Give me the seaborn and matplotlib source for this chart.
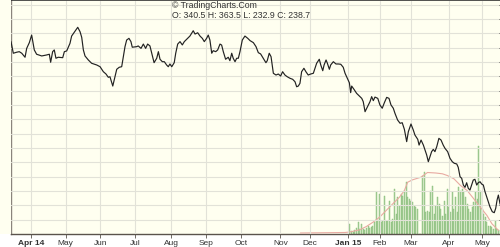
import matplotlib
matplotlib.use("Agg")
import matplotlib.pyplot as plt
import seaborn as sns
import pandas as pd
import numpy as np

# ---- data ----
price_days = [-12.1, -10.7, -8.7, -7.1, -5.6, -3.6, -2.6, -1.0, 0.4, 2.0, 3.4, 6.5, 9.5, 11.1, 11.9,
              13.1, 14.1, 15.1, 16.5, 19.2, 20.2, 21.6, 23.6, 24.6, 26.0, 28.3, 29.7, 30.7, 31.7, 32.7,
              34.7, 36.7, 39.8, 41.8, 43.8, 45.4, 46.8, 47.8, 49.5, 50.8, 51.9, 53.4, 54.9, 56.9, 57.9,
              59.3, 60.5, 61.3, 64.0, 64.9, 66.6, 68.0, 69.4, 70.6, 72.0, 73.1, 74.5, 76.1, 77.1, 78.1,
              79.5, 80.7, 82.1, 83.1, 84.1, 85.2, 86.7, 87.6, 88.8, 90.2, 91.6, 92.8, 94.2, 96.2, 98.2,
              99.3, 100.9, 102.3, 103.7, 104.9, 106.3, 107.3, 108.3, 109.4, 110.3, 111.8, 113.0, 114.4, 115.4, 116.4,
              117.8, 119.4, 120.4, 121.5, 122.4, 123.5, 124.5, 125.5, 126.5, 127.9, 129.5, 131.2, 132.6, 134.6, 136.2,
              137.6, 139.0, 140.6, 142.2, 143.0, 144.2, 145.3, 146.7, 148.3, 149.7, 151.1, 152.3, 153.7, 155.1, 156.8,
              158.4, 159.8, 160.8, 161.8, 162.8, 163.8, 165.2, 166.4, 167.8, 169.3, 170.9, 171.9, 172.9, 174.5, 175.4,
              176.6, 177.4, 178.6, 179.4, 180.6, 181.4, 183.0, 184.6, 186.0, 187.5, 189.0, 190.1, 191.5, 192.7, 193.5,
              194.1, 195.5, 197.1, 198.7, 200.2, 201.1, 202.2, 203.2, 204.2, 205.2, 206.2, 207.2, 208.2, 209.9, 211.2,
              212.6, 213.9, 215.3, 216.7, 217.9, 219.3, 220.3, 221.9, 223.4, 224.7, 226.0, 227.4, 228.4, 230.0, 231.4,
              232.4, 234.1, 234.9, 236.1, 237.5, 238.5, 239.5, 240.5, 241.5, 242.5, 243.5, 244.5, 245.6, 246.9, 248.2,
              249.5, 250.6, 252.2, 253.6, 255.0, 256.2, 257.7, 258.6, 259.7, 260.7, 261.7, 262.7, 263.7, 264.7, 265.7,
              266.7, 267.7, 268.7, 269.8, 270.7, 271.8, 272.8, 273.8, 274.8, 275.8, 276.8, 277.8, 279.2, 280.4, 281.3,
              282.1, 282.9, 283.9, 284.8]
price_close = [354.2, 346.1, 346.8, 347.2, 346.1, 343.3, 349.5, 353.5, 358.8, 348.4, 345.4, 344.2, 344.9, 345.4, 339.8,
               347.2, 348.4, 342.6, 343.3, 343.0, 347.2, 347.7, 353.0, 358.1, 360.4, 364.2, 361.1, 357.2, 348.4, 344.2,
               341.4, 339.1, 337.9, 336.7, 333.2, 331.6, 329.3, 329.7, 323.2, 329.7, 334.9, 336.3, 336.7, 350.7, 355.3,
               356.5, 354.2, 350.3, 350.7, 351.2, 349.5, 352.5, 349.5, 352.5, 351.2, 346.1, 339.5, 342.6, 347.2, 341.9,
               340.2, 340.2, 337.9, 336.7, 338.6, 336.7, 339.5, 346.1, 352.5, 354.2, 351.9, 354.2, 355.8, 358.1, 361.8,
               359.5, 360.4, 358.1, 356.5, 354.2, 356.5, 358.8, 355.3, 346.1, 347.9, 347.2, 348.4, 352.5, 351.8, 347.2,
               341.9, 343.3, 340.9, 346.1, 342.6, 340.2, 342.6, 342.6, 347.2, 355.3, 358.1, 356.5, 354.9, 353.5, 350.7,
               346.5, 345.6, 342.6, 339.5, 340.9, 346.1, 343.7, 332.1, 330.9, 331.6, 330.2, 333.2, 330.9, 329.7, 328.6,
               327.9, 326.2, 322.7, 323.2, 325.1, 333.2, 335.6, 333.2, 330.9, 331.6, 332.1, 335.6, 339.1, 341.9, 337.9,
               333.9, 337.9, 341.4, 339.1, 334.9, 337.9, 340.2, 338.6, 338.6, 338.4, 336.3, 332.1, 328.6, 325.5, 318.6,
               323.2, 320.9, 318.1, 316.3, 314.6, 312.3, 305.3, 307.7, 310.0, 312.3, 315.8, 313.0, 315.5, 314.6, 310.0,
               307.7, 311.6, 315.3, 314.6, 310.0, 307.7, 304.2, 299.5, 297.2, 297.6, 293.0, 284.4, 291.3, 296.7, 292.5,
               289.0, 286.0, 282.0, 285.5, 282.0, 278.6, 275.1, 270.4, 273.9, 277.4, 279.0, 277.4, 280.9, 286.7, 285.5,
               282.0, 279.7, 277.4, 272.8, 270.4, 269.3, 268.8, 266.5, 259.9, 258.8, 254.1, 252.5, 255.7, 251.8, 250.6,
               254.1, 257.6, 258.1, 254.1, 255.7, 256.4, 254.8, 254.1, 249.5, 245.9, 242.5, 238.9, 235.5, 234.8, 237.9,
               243.6, 247.1, 241.0, 238.7]

vol_days = list(range(193, 285))
volume = [485, 150, 100, 200, 300, 565, 235, 485, 250, 200, 265, 365, 265, 315, 400, 600,
          2065, 650, 1985, 565, 650, 1900, 650, 650, 1650, 565, 735, 2235, 985, 1815, 1400, 1985,
          1900, 2150, 2565, 1815, 1735, 1650, 1565, 1400, 1315, 1235, 0, 0, 2900, 3065, 1065, 1150,
          1065, 2150, 2400, 985, 1400, 1815, 1485, 1235, 900, 1650, 985, 2235, 1315, 1065, 2065, 1235,
          1815, 1065, 2315, 2150, 2235, 2065, 1815, 1485, 1235, 1065, 1315, 1565, 2065, 1750, 4400, 2150,
          1235, 985, 815, 565, 400, 400, 315, 235, 650, 235, 200, 200]

oi_days = [163, 190, 193, 199, 203, 207, 211, 215, 219, 223, 226, 228, 231, 236, 240, 245, 249, 252,
           256, 260, 264, 268, 272, 276, 279, 283]
open_interest = [200, 400, 600, 1480, 2800, 4520, 6520, 9200, 11880, 14520, 17200, 20520, 21480, 22520,
                 24400, 24200, 23880, 23200, 21880, 19200, 17200, 13880, 10520, 7200, 3880, 1200]

month_days = [0, 21, 42, 63, 85, 106, 127, 151, 169, 192, 211, 230, 253, 273]
month_labels = ["Apr 14", "May", "Jun", "Jul", "Aug", "Sep", "Oct", "Nov", "Dec", "Jan 15", "Feb", "Mar", "Apr", "May"]
price_ticks = list(range(230, 390, 10))

title_line1 = "\u00a9 TradingCharts.Com"
title_line2 = "O: 340.5 H: 363.5 L: 232.9 C: 238.7"

# ---- style ----
sns.set_theme(style="white")
plt.rcParams["font.family"] = ["Liberation Sans", "DejaVu Sans"]

W, H = 500, 247
fig = plt.figure(figsize=(W / 100, H / 100), dpi=100, facecolor="white")
px_left, px_right, px_top, px_bot = 11, 503, 0.5, 233.5
rect = [px_left / W, 1 - px_bot / H, (px_right - px_left) / W, (px_bot - px_top) / H]

bg = "#fffff0"
grid_c = "#e2e2d8"
spine_c = "#5a534c"

# light strip left of the plot (same paper colour)
fig.patches.append(plt.Rectangle((0, 1 - px_bot / H), px_left / W, px_bot / H,
                                 transform=fig.transFigure, facecolor=bg, edgecolor="none", zorder=0))

ax_v = fig.add_axes(rect)
ax_v.set_facecolor(bg)
ax_oi = ax_v.twinx()
ax_p = ax_v.twinx()

# volume bars
vol_df = pd.DataFrame({"day": vol_days, "volume": volume})
sns.barplot(data=vol_df, x="day", y="volume", native_scale=True, width=0.6,
            color="#a6d597", edgecolor="#86c076", linewidth=0.3, errorbar=None, ax=ax_v)
ax_v.set_ylim(0, 233 * 50)

# open interest line
oi_df = pd.DataFrame({"day": oi_days, "oi": open_interest})
sns.lineplot(data=oi_df, x="day", y="oi", color="#e8aaa2", linewidth=0.8, ax=ax_oi)
ax_oi.set_ylim(0, 233 * 400)

# price line
p_df = pd.DataFrame({"day": price_days, "close": price_close})
sns.lineplot(data=p_df, x="day", y="close", color="#222222", linewidth=0.85, ax=ax_p)
ax_p.set_ylim(383.26 - 0.698 * px_bot, 383.26 - 0.698 * px_top)

xlim = (-12.1, 285.7)
for a in (ax_v, ax_oi, ax_p):
    a.set_xlim(*xlim)
    a.set_xlabel("")
    a.set_ylabel("")

# grid lines (drawn on the price axes, under the price line)
for d in month_days:
    ax_p.axvline(d, color=grid_c, linewidth=0.8, zorder=0)
for t in price_ticks:
    ax_p.axhline(t, color=grid_c, linewidth=0.8, zorder=0)
ax_p.set_zorder(3)
ax_oi.set_zorder(2)
ax_p.patch.set_visible(False)
ax_oi.patch.set_visible(False)

# x ticks (shared x axis; shown only on the base axes)
ax_v.set_xticks(month_days)
ax_v.set_xticklabels(month_labels)
ax_v.tick_params(axis="x", direction="out", length=3, width=0.6, color=spine_c,
                 labelsize=6, labelcolor="#333333", pad=2, bottom=True, labelbottom=True)
for lab in ax_v.get_xticklabels():
    if lab.get_text() in ("Apr 14", "Jan 15"):
        lab.set_fontweight("bold")
for a in (ax_oi, ax_p):
    a.tick_params(axis="x", bottom=False, labelbottom=False, top=False, labeltop=False)
ax_v.set_yticks([])
ax_oi.set_yticks([])

# right price axis ticks (labels fall outside the crop)
ax_p.set_yticks(price_ticks)
ax_p.yaxis.tick_right()
ax_p.tick_params(axis="y", direction="in", length=3, width=0.6, color="#333333",
                 labelright=False, labelleft=False)

for a in (ax_v, ax_oi, ax_p):
    for s in a.spines.values():
        s.set_visible(False)
ax_v.spines["left"].set_visible(True)
ax_v.spines["left"].set_color("#8a847c")
ax_v.spines["left"].set_linewidth(1.0)
ax_v.spines["bottom"].set_visible(True)
ax_v.spines["bottom"].set_color(spine_c)
ax_v.spines["bottom"].set_linewidth(1.0)
ax_v.spines["top"].set_visible(True)
ax_v.spines["top"].set_color("#333333")
ax_v.spines["top"].set_linewidth(1.2)

fig.text(172 / W, 1 - 5.5 / H, title_line1, ha="left", va="center", fontsize=6.3, color="#333333")
fig.text(172 / W, 1 - 15.5 / H, title_line2, ha="left", va="center", fontsize=6.3, color="#333333")

fig.savefig("out.png", dpi=100, facecolor="white")
